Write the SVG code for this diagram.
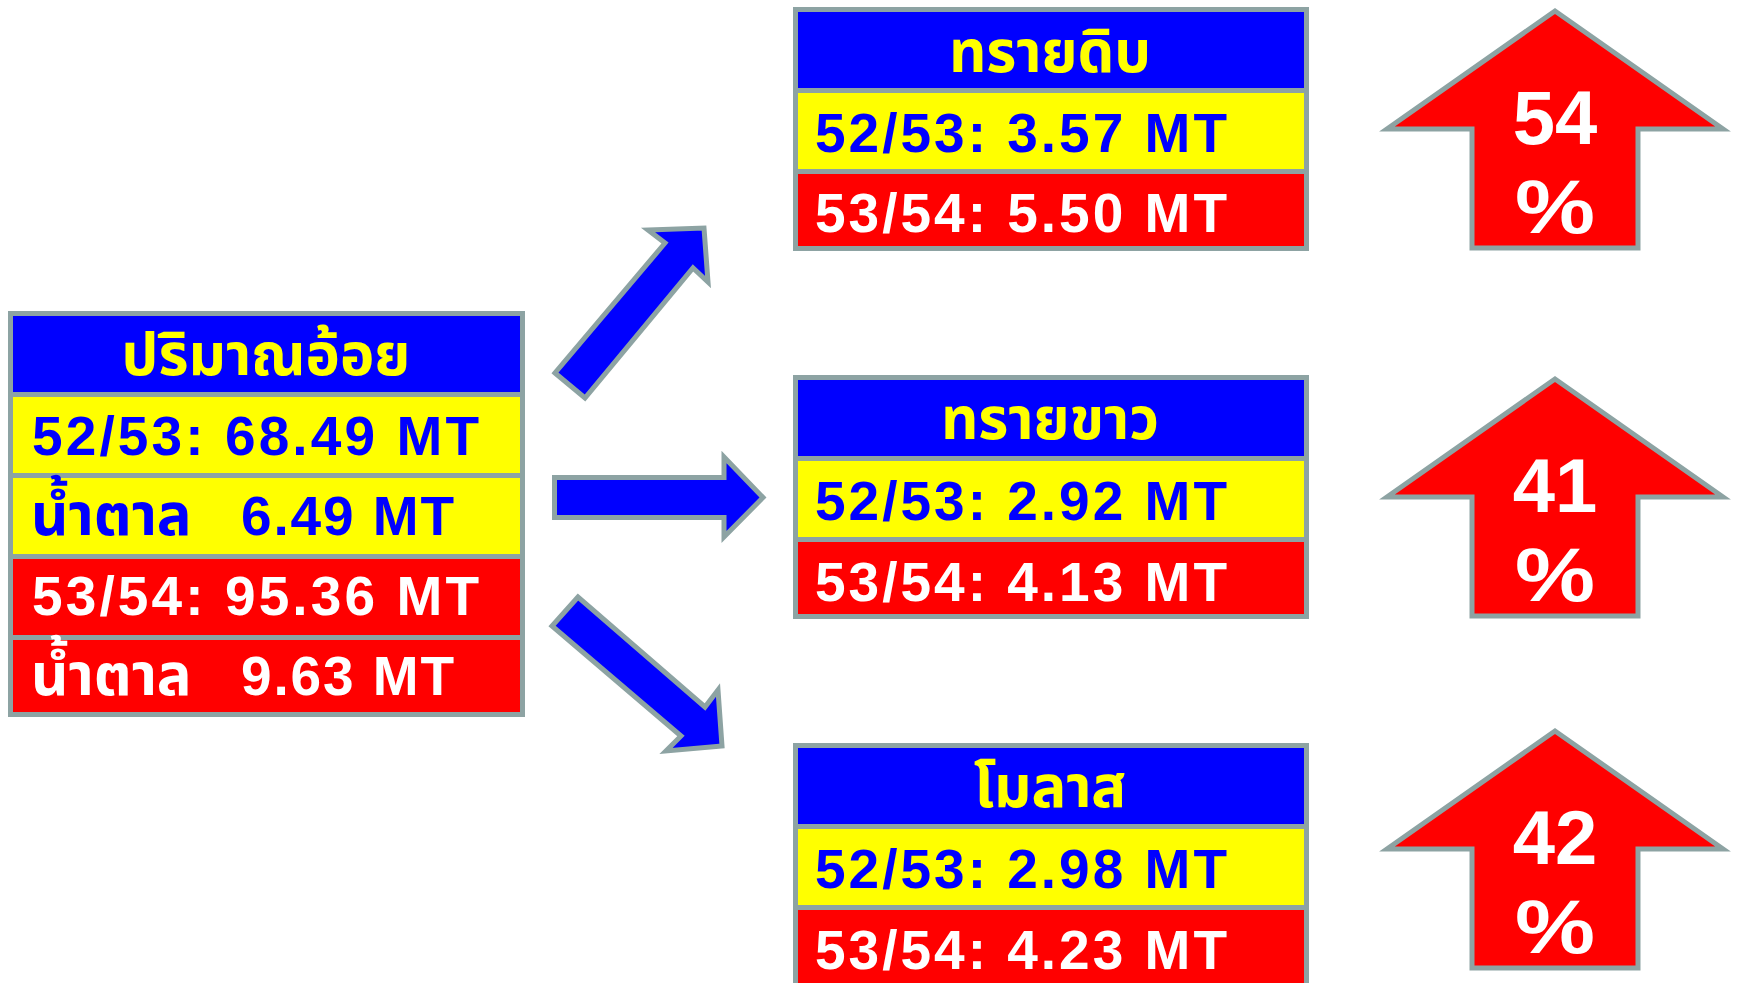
<svg xmlns="http://www.w3.org/2000/svg" width="1737" height="983" viewBox="0 0 1737 983">
<style>
.cell{stroke:#8DA3A3;stroke-width:5}
.hd{fill:#0000FF}
.yl{fill:#FFFF00}
.rd{fill:#FF0000}
.th{font-family:"Noto Sans Thai","Noto Sans Thai Looped","Noto Sans","DejaVu Sans",sans-serif;font-weight:bold;font-size:58px}
.num{font-family:"Liberation Sans",Arial,sans-serif;font-weight:bold;font-size:55px}
.pct{font-family:"Liberation Sans",Arial,sans-serif;font-weight:bold;font-size:76px;fill:#FFFFFF;text-anchor:middle}
.ty{fill:#FFFF00;text-anchor:middle}
.tb{fill:#0000FF}
.tw{fill:#FFFFFF}
.conn{fill:#0000FF;stroke:#8DA3A3;stroke-width:5;stroke-linejoin:miter}
.up{fill:#FF0000;stroke:#8DA3A3;stroke-width:5}
</style>
<rect width="1737" height="983" fill="#FFFFFF"/>

<g id="node-cane">
<rect class="cell hd" x="10.5" y="313.5" width="512" height="81"/>
<rect class="cell yl" x="10.5" y="394.5" width="512" height="81"/>
<rect class="cell yl" x="10.5" y="475.5" width="512" height="81"/>
<rect class="cell rd" x="10.5" y="556.5" width="512" height="81"/>
<rect class="cell rd" x="10.5" y="637.5" width="512" height="77"/>
<text class="th ty" x="266" y="375">ปริมาณอ้อย</text>
<text class="num tb" x="32" y="455" textLength="447">52/53: 68.49 MT</text>
<text class="tb" y="535"><tspan class="th" x="31">น้ำตาล</tspan><tspan class="num" x="241" textLength="213">6.49 MT</tspan></text>
<text class="num tw" x="32" y="615" textLength="447">53/54: 95.36 MT</text>
<text class="tw" y="695"><tspan class="th" x="31">น้ำตาล</tspan><tspan class="num" x="241" textLength="213">9.63 MT</tspan></text>
</g>

<g id="node-raw">
<rect class="cell hd" x="795.5" y="9.5" width="511" height="81"/>
<rect class="cell yl" x="795.5" y="90.5" width="511" height="81"/>
<rect class="cell rd" x="795.5" y="171.5" width="511" height="77"/>
<text class="th ty" x="1050" y="72">ทรายดิบ</text>
<text class="num tb" x="815" y="152" textLength="412">52/53: 3.57 MT</text>
<text class="num tw" x="815" y="232" textLength="412">53/54: 5.50 MT</text>
</g>

<g id="node-white">
<rect class="cell hd" x="795.5" y="377.5" width="511" height="81"/>
<rect class="cell yl" x="795.5" y="458.5" width="511" height="81"/>
<rect class="cell rd" x="795.5" y="539.5" width="511" height="77"/>
<text class="th ty" x="1050" y="439">ทรายขาว</text>
<text class="num tb" x="815" y="520" textLength="412">52/53: 2.92 MT</text>
<text class="num tw" x="815" y="601" textLength="412">53/54: 4.13 MT</text>
</g>

<g id="node-molasses">
<rect class="cell hd" x="795.5" y="745.5" width="511" height="81"/>
<rect class="cell yl" x="795.5" y="826.5" width="511" height="81"/>
<rect class="cell rd" x="795.5" y="907.5" width="511" height="81"/>
<text class="th ty" x="1050" y="807">โมลาส</text>
<text class="num tb" x="815" y="888" textLength="412">52/53: 2.98 MT</text>
<text class="num tw" x="815" y="969" textLength="412">53/54: 4.23 MT</text>
</g>

<g id="up-raw">
<polygon class="up" points="1555,11 1387,129 1472,129 1472,248 1638,248 1638,129 1723,129"/>
<text class="pct" x="1555" y="144">54</text>
<text class="pct" x="1555" y="233" textLength="80" lengthAdjust="spacingAndGlyphs">%</text>
</g>
<g id="up-white">
<polygon class="up" points="1555,379 1387,497 1472,497 1472,616 1638,616 1638,497 1723,497"/>
<text class="pct" x="1555" y="512">41</text>
<text class="pct" x="1555" y="601" textLength="80" lengthAdjust="spacingAndGlyphs">%</text>
</g>
<g id="up-molasses">
<polygon class="up" points="1555,731 1387,849 1472,849 1472,968 1638,968 1638,849 1723,849"/>
<text class="pct" x="1555" y="864">42</text>
<text class="pct" x="1555" y="953" textLength="80" lengthAdjust="spacingAndGlyphs">%</text>
</g>

<g id="connectors">
<polygon class="conn" points="555,373 585,398 693,268 708,282 704,228 648,230 665,243"/>
<polygon class="conn" points="554.5,477.5 724,477.5 724,457 763,497.5 724,537 724,517.5 554.5,517.5"/>
<polygon class="conn" points="578,597 552,626 681,736 666,751 722,746 718,690 705,707"/>
</g>
</svg>
